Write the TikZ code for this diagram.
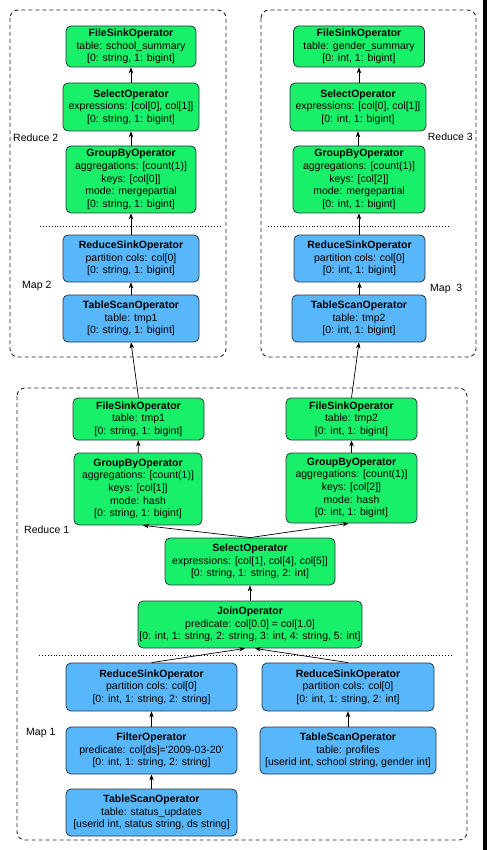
\documentclass[tikz,border=0pt]{standalone}
\usepackage{fontspec}
\setmainfont{Liberation Sans}
\usetikzlibrary{arrows.meta,calc}
\definecolor{opgreen}{RGB}{25,240,105}
\definecolor{opblue}{RGB}{88,182,250}
\definecolor{opborder}{RGB}{45,55,65}
\begin{document}
\begin{tikzpicture}[x=1pt,y=-1pt,
  op/.style={draw=opborder,line width=0.8pt,rounded corners=5pt,align=center,inner sep=1pt,
    font=\fontsize{10.5}{12.6}\selectfont},
  gop/.style={op,fill=opgreen},
  bop/.style={op,fill=opblue},
  stage/.style={draw=black!85,line width=0.9pt,dash pattern=on 4pt off 3pt,rounded corners=8pt},
  sep/.style={line width=0.9pt,dotted},
  lbl/.style={font=\fontsize{10.5}{12.6}\selectfont,inner sep=0pt},
  flow/.style={line width=0.7pt,-{Stealth[length=6pt,width=4.5pt]}}]
\useasboundingbox (0,0) rectangle (487,850);
\fill[white] (0,0) rectangle (487,850);
\fill[black] (483,0) rectangle (487,850);
% stage frames
\draw[stage] (10,10) rectangle (226,357);
\draw[stage] (261,10) rectangle (476,357);
\draw[stage] (17,388) rectangle (467,840);
\draw[sep] (40,226) -- (222,226);
\draw[sep] (268,226) -- (448,226);
\draw[sep] (39,655) -- (452,655);
% labels
\node[lbl,anchor=west] (lr2) at (13,138) {Reduce 2};
\node[lbl,anchor=west] (lm2) at (22,286) {Map 2};
\node[lbl,anchor=east] (lr3) at (473,137) {Reduce 3};
\node[lbl,anchor=west] (lm3) at (430,289) {Map\ \ 3};
\node[lbl,anchor=west] (lr1) at (24,530) {Reduce 1};
\node[lbl,anchor=west] (lm1) at (26,733) {Map 1};
% top-left job
\node[gop,minimum width=130,minimum height=41] (fsL) at (131,46.5)
  {{\bfseries FileSinkOperator}\\table: school\_summary\\{[}0: string, 1: bigint{]}};
\node[gop,minimum width=136,minimum height=48] (selL) at (131,107)
  {{\bfseries SelectOperator}\\expressions: {[}col{[}0{]}, col{[}1{]}{]}\\{[}0: string, 1: bigint{]}};
\node[gop,minimum width=130,minimum height=67] (gbL) at (131,179.5)
  {{\bfseries GroupByOperator}\\aggregations: {[}count(1){]}\\keys: {[}col{[}0{]}{]}\\mode: mergepartial\\{[}0: string, 1: bigint{]}};
\node[bop,minimum width=136,minimum height=47] (rsL) at (131,258.5)
  {{\bfseries ReduceSinkOperator}\\partition cols: col{[}0{]}\\{[}0: string, 1: bigint{]}};
\node[bop,minimum width=136,minimum height=47] (tsL) at (131,318.5)
  {{\bfseries TableScanOperator}\\table: tmp1\\{[}0: string, 1: bigint{]}};
% top-right job
\node[gop,minimum width=131,minimum height=41] (fsR) at (359,46.5)
  {{\bfseries FileSinkOperator}\\table: gender\_summary\\{[}0: int, 1: bigint{]}};
\node[gop,minimum width=136,minimum height=48] (selR) at (358,107)
  {{\bfseries SelectOperator}\\expressions: {[}col{[}0{]}, col{[}1{]}{]}\\{[}0: int, 1: bigint{]}};
\node[gop,minimum width=132,minimum height=67] (gbR) at (359,179.5)
  {{\bfseries GroupByOperator}\\aggregations: {[}count(1){]}\\keys: {[}col{[}2{]}{]}\\mode: mergepartial\\{[}0: int, 1: bigint{]}};
\node[bop,minimum width=131,minimum height=47] (rsR) at (359.5,258.5)
  {{\bfseries ReduceSinkOperator}\\partition cols: col{[}0{]}\\{[}0: int, 1: bigint{]}};
\node[bop,minimum width=134,minimum height=47] (tsR) at (359,318.5)
  {{\bfseries TableScanOperator}\\table: tmp2\\{[}0: int, 1: bigint{]}};
% bottom job
\node[gop,minimum width=131,minimum height=42] (fs1) at (138.5,419)
  {{\bfseries FileSinkOperator}\\table: tmp1\\{[}0: string, 1: bigint{]}};
\node[gop,minimum width=131,minimum height=42] (fs2) at (351.5,419)
  {{\bfseries FileSinkOperator}\\table: tmp2\\{[}0: int, 1: bigint{]}};
\node[gop,minimum width=128,minimum height=72] (gb1) at (138,489)
  {{\bfseries GroupByOperator}\\aggregations: {[}count(1){]}\\keys: {[}col{[}1{]}{]}\\mode: hash\\{[}0: string, 1: bigint{]}};
\node[gop,minimum width=131,minimum height=70] (gb2) at (351.5,488)
  {{\bfseries GroupByOperator}\\aggregations: {[}count(1){]}\\keys: {[}col{[}2{]}{]}\\mode: hash\\{[}0: int, 1: bigint{]}};
\node[gop,minimum width=170,minimum height=47] (sel) at (250,561.5)
  {{\bfseries SelectOperator}\\expressions: {[}col{[}1{]}, col{[}4{]}, col{[}5{]}{]}\\{[}0: string, 1: string, 2: int{]}};
\node[gop,minimum width=224,minimum height=47] (join) at (250,624.5)
  {{\bfseries JoinOperator}\\predicate: col{[}0.0{]} = col{[}1.0{]}\\{[}0: int, 1: string, 2: string, 3: int, 4: string, 5: int{]}};
\node[bop,minimum width=171,minimum height=48] (rs1) at (151.5,687)
  {{\bfseries ReduceSinkOperator}\\partition cols: col{[}0{]}\\{[}0: int, 1: string, 2: string{]}};
\node[bop,minimum width=172,minimum height=48] (rs2) at (348,687)
  {{\bfseries ReduceSinkOperator}\\partition cols: col{[}0{]}\\{[}0: int, 1: string, 2: int{]}};
\node[bop,minimum width=171,minimum height=47] (filt) at (151.5,750.5)
  {{\bfseries FilterOperator}\\predicate: col{[}ds{]}=\textquotesingle 2009-03-20\textquotesingle\\{[}0: int, 1: string, 2: string{]}};
\node[bop,minimum width=176,minimum height=47] (tsp) at (348,750.5)
  {{\bfseries TableScanOperator}\\table: profiles\\{[}userid int, school string, gender int{]}};
\node[bop,minimum width=171,minimum height=47] (tss) at (151.5,812.5)
  {{\bfseries TableScanOperator}\\table: status\_updates\\{[}userid int, status string, ds string{]}};
% connectors
\draw[flow] (selL) -- (fsL);
\draw[flow] (gbL) -- (selL);
\draw[flow] (rsL) -- (gbL);
\draw[flow] (tsL) -- (rsL);
\draw[flow] (selR.north -| fsR) -- (fsR);
\draw[flow] (gbR.north -| selR) -- (selR);
\draw[flow] (rsR.north -| gbR) -- (gbR);
\draw[flow] (tsR.north -| rsR) -- (rsR);
\draw[flow] (fs1.north) -- (tsL.south);
\draw[flow] (fs2.north) -- (tsR.south);
\draw[flow] (gb1) -- (fs1);
\draw[flow] (gb2) -- (fs2);
\draw[flow] (sel.north) -- ($(gb1.south)+(5,0)$);
\draw[flow] (sel.north) -- ($(gb2.south)+(-3,0)$);
\draw[flow] (join) -- (sel);
\draw[flow] (rs1.north) -- ($(join.south)+(-5,0)$);
\draw[flow] (rs2.north) -- ($(join.south)+(5,0)$);
\draw[flow] (filt) -- (rs1);
\draw[flow] (tss) -- (filt);
\draw[flow] (tsp) -- (rs2);
\end{tikzpicture}
\end{document}
